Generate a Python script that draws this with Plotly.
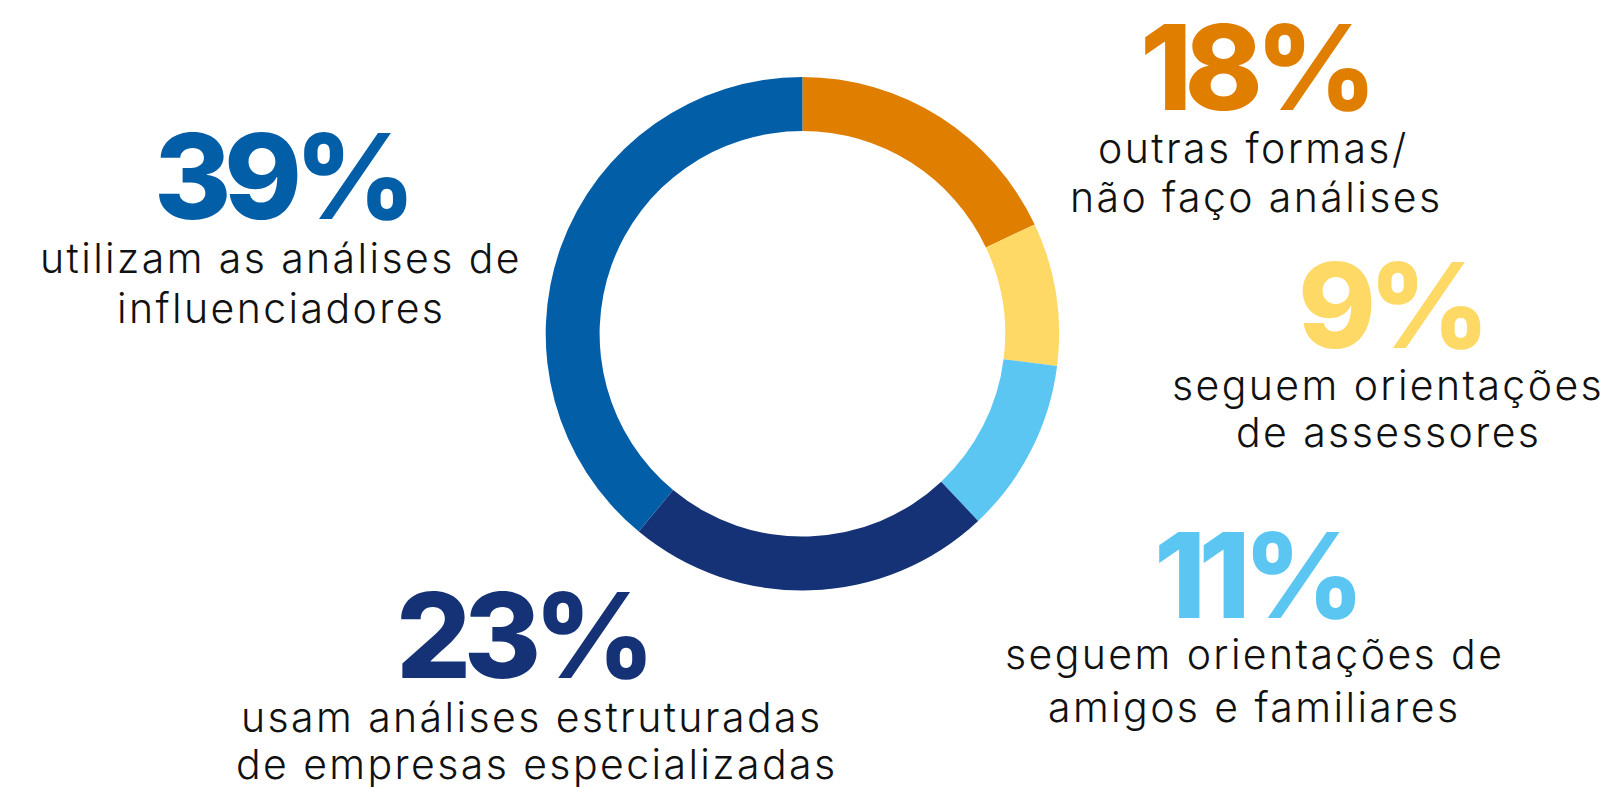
import plotly.graph_objects as go

W, H = 1613, 787
OFF = 8  # page body margin of the rendered html

categories = ["outras formas/ não faço análises", "seguem orientações de assessores",
              "seguem orientações de amigos e familiares",
              "usam análises estruturadas de empresas especializadas",
              "utilizam as análises de influenciadores"]
values = [18, 9, 11, 23, 39]
colors = ["#E07E00", "#FFD966", "#5CC6F2", "#143275", "#035EA8"]
pct_labels = ["18%", "9%", "11%", "23%", "39%"]
desc_lines = [["outras formas/", "não faço análises"],
              ["seguem orientações", "de assessores"],
              ["seguem orientações de", "amigos e familiares"],
              ["usam análises estruturadas", "de empresas especializadas"],
              ["utilizam as análises de", "influenciadores"]]

NUM_SIZE, TXT_SIZE = 118, 41
NUM_LS, TXT_LS = -7.5, 2.4  # letter spacing in px
# window-pixel targets: number (x center, cap middle), label lines (x center, baseline)
num_pos = [(1251, 66.5), (1387, 304.5), (1252, 575), (518, 635), (278, 176.5)]
line_pos = [[(1252, 163), (1255, 212)],
            [(1387, 400), (1387, 447)],
            [(1253, 669), (1253, 722)],
            [(531, 732), (535, 779)],
            [(280, 273), (280, 323)]]

cx, cy, r = 802.4, 333.8, 256.7


def px(x):
    return (x - OFF) / W


def py(y):
    return 1 - (y - OFF) / H


fig = go.Figure(go.Pie(
    labels=categories, values=values, sort=False, direction="clockwise", rotation=0,
    hole=0.79, marker=dict(colors=colors, line=dict(width=0)),
    textinfo="none", hoverinfo="skip", showlegend=False,
    domain=dict(x=[px(cx - r), px(cx + r)], y=[py(cy + r), py(cy - r)]),
))

FONT = "Inter"
for i in range(len(values)):
    x, y = num_pos[i]
    fig.add_annotation(x=px(x - NUM_LS / 2), y=py(y), xref="paper", yref="paper",
                       text=f'<span style="letter-spacing:{NUM_LS}px">{pct_labels[i]}</span>',
                       showarrow=False, xanchor="center", yanchor="middle",
                       font=dict(family=FONT, size=NUM_SIZE, color=colors[i], weight=800))
    for j, line in enumerate(desc_lines[i]):
        lx, base = line_pos[i][j]
        fig.add_annotation(x=px(lx + TXT_LS / 2), y=py(base - 0.3635 * TXT_SIZE),
                           xref="paper", yref="paper",
                           text=f'<span style="letter-spacing:{TXT_LS}px">{line}</span>',
                           showarrow=False, xanchor="center", yanchor="middle",
                           font=dict(family=FONT, size=TXT_SIZE, color="#111111", weight=350))

fig.update_layout(width=W, height=H, margin=dict(l=0, r=0, t=0, b=0),
                  paper_bgcolor="white", plot_bgcolor="white")
fig.write_html("out.html")
